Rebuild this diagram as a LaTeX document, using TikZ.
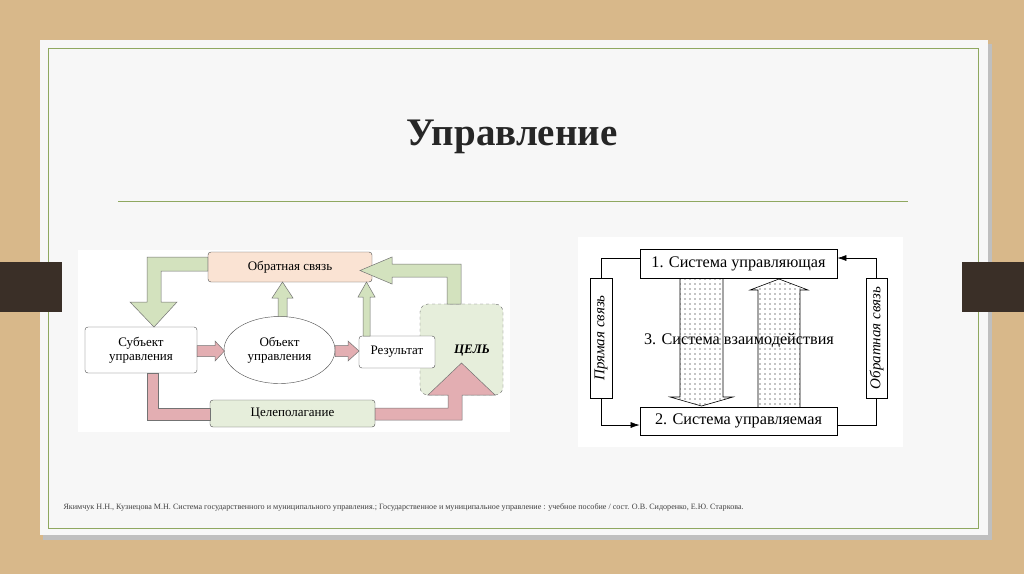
\documentclass[tikz,border=0pt]{standalone}
\usepackage{fontspec}
\setmainfont{Liberation Serif}
\usetikzlibrary{patterns,arrows.meta,shapes.geometric}
\pgfdeclarepatternformonly{sparsedots}{\pgfqpoint{-1pt}{-1pt}}{\pgfqpoint{1pt}{1pt}}{\pgfqpoint{5pt}{5pt}}{%
 \pgfpathcircle{\pgfqpoint{0pt}{0pt}}{0.55pt}\pgfusepath{fill}}
\definecolor{wood}{HTML}{D8B88A}
\definecolor{frameg}{HTML}{8FA860}
\definecolor{gfill}{HTML}{D3E2BE}
\definecolor{lgfill}{HTML}{E6EEDB}
\definecolor{pfill}{HTML}{E3AEB2}
\definecolor{peach}{HTML}{FAE3D3}
\definecolor{dbar}{HTML}{3A2F27}
\tikzset{
 fs/.style={font=\fontsize{#1}{#1}\selectfont},
 lbox/.style={draw=black!70,rounded corners=3pt,fill=white,inner sep=0pt},
 garrow/.style={draw=black!55,fill=gfill,line width=0.5pt},
 parrow/.style={draw=black!55,fill=pfill,line width=0.5pt},
 rbox/.style={draw,line width=0.8pt,fill=white,inner sep=0pt},
 darr/.style={draw,line width=0.6pt,pattern=sparsedots},
}
\begin{document}
\begin{tikzpicture}[x=1pt,y=-1pt]
\useasboundingbox (0,0) rectangle (1024,574);
\fill[wood] (0,0) rectangle (1024,574);
\fill[black!25] (43,44) rectangle (992,540);
\fill[white!97!black] (40,40) rectangle (988,535);
\draw[frameg,line width=0.8pt] (48,48) rectangle (978,528);
\fill[dbar] (0,262) rectangle (62,312);
\fill[dbar] (962,262) rectangle (1024,312);
\node[font=\fontsize{39}{39}\selectfont\bfseries,text=black!85] (title) at (512,137) {Управление};
\draw[frameg,line width=1pt] (118,201) -- (908,201);
% left diagram
\fill[white] (78,250) rectangle (510,432);
\node[draw=black!60,dashed,rounded corners=8pt,fill=lgfill,minimum width=83pt,minimum height=91pt,inner sep=0pt] (goal) at (461.5,349.5) {};
\node[font=\fontsize{13}{13}\selectfont\bfseries\itshape] (goalt) at (472,351) {ЦЕЛЬ};
\node[lbox,fill=peach,minimum width=164pt,minimum height=30pt,fs=13] (fb) at (290,267) {Обратная связь};
\node[lbox,minimum width=112pt,minimum height=46pt,align=center,fs=13] (subj) at (141,350) {Субъект\\[1pt]управления};
\node[draw=black!70,fill=white,ellipse,minimum width=111pt,minimum height=67pt,inner sep=0pt,align=center,fs=13] (obj) at (279.5,350) {Объект\\[1pt]управления};
\node[lbox,minimum width=76pt,minimum height=32pt,fs=13] (res) at (397,352) {Результат};
\node[lbox,fill=lgfill,minimum width=165pt,minimum height=27pt,fs=13] (cel) at (292.5,413.5) {Целеполагание};
\draw[garrow] (fb.west |- 0,257) -- (147,257) -- (147,302) -- (130,302) -- (154,327) -- (177,302) -- (161,302) -- (161,271) -- (fb.west |- 0,271) -- cycle;
\draw[garrow] (278,316.5) -- (278,298) -- (272,298) -- (282.5,282) -- (293,298) -- (287,298) -- (287,316.5) -- cycle;
\draw[garrow] (363,336) -- (363,297) -- (358,297) -- (366.5,282) -- (375,297) -- (370,297) -- (370,336) -- cycle;
\draw[garrow] (447,304) -- (447,277) -- (392,277) -- (392,284) -- (360,270.5) -- (392,257) -- (392,264) -- (461,264) -- (461,304) -- cycle;
\draw[parrow] (subj.east |- 0,345.5) -- (215,345.5) -- (215,341) -- (224.5,351) -- (215,361) -- (215,356.5) -- (subj.east |- 0,356.5) -- cycle;
\draw[parrow] (obj.east |- 0,345.5) -- (348,345.5) -- (348,341) -- (359,351) -- (348,361) -- (348,356.5) -- (obj.east |- 0,356.5) -- cycle;
\draw[parrow] (147,373) -- (147,420) -- (210,420) -- (210,408) -- (158,408) -- (158,373) -- cycle;
\draw[parrow] (375,408) -- (375,420) -- (462,420) -- (462,395) -- (495,395) -- (461.5,363) -- (428,395) -- (448,395) -- (448,408) -- cycle;
% right diagram
\fill[white] (578,237) rectangle (903,447);
\node[rbox,minimum width=197pt,minimum height=29pt,fs=16.2] (s1) at (738.5,263.5) {1. Система управляющая};
\node[rbox,minimum width=197pt,minimum height=28pt,fs=16.2] (s2) at (738.5,421) {2. Система управляемая};
\node[rbox,minimum width=22pt,minimum height=120pt] (pl) at (601,338) {};
\node[rotate=90,font=\fontsize{15}{15}\selectfont\itshape] at (pl) {Прямая связь};
\node[rbox,minimum width=21pt,minimum height=120pt] (pr) at (876.5,338) {};
\node[rotate=90,font=\fontsize{15}{15}\selectfont\itshape] at (pr) {Обратная связь};
\draw[line width=0.6pt] (s1.west |- 0,258) -| (pl.north);
\draw[line width=0.6pt,-{Latex[length=9pt,width=6pt]}] (pl.south) |- (s2.west |- 0,425);
\draw[line width=0.6pt] (s2.east |- 0,425) -| (pr.south);
\draw[line width=0.6pt,-{Latex[length=9pt,width=6pt]}] (pr.north) |- (s1.east |- 0,258);
\draw[darr] (680,278) -- (680,397) -- (670,397) -- (701.5,406) -- (733,397) -- (723,397) -- (723,278);
\draw[darr] (758,407) -- (758,290) -- (750,290) -- (779,279) -- (808,290) -- (800,290) -- (800,407);
\node[fs=16.2] (s3) at (739,341) {3. Система взаимодействия};
% footer
\node[anchor=west,fs=8.1,text=black!75] (foot) at (60,507) {Якимчук Н.Н., Кузнецова М.Н. Система государственного и муниципального управления.; Государственное и муниципальное управление : учебное пособие / сост. О.В. Сидоренко, Е.Ю. Старкова.};
\end{tikzpicture}
\end{document}
